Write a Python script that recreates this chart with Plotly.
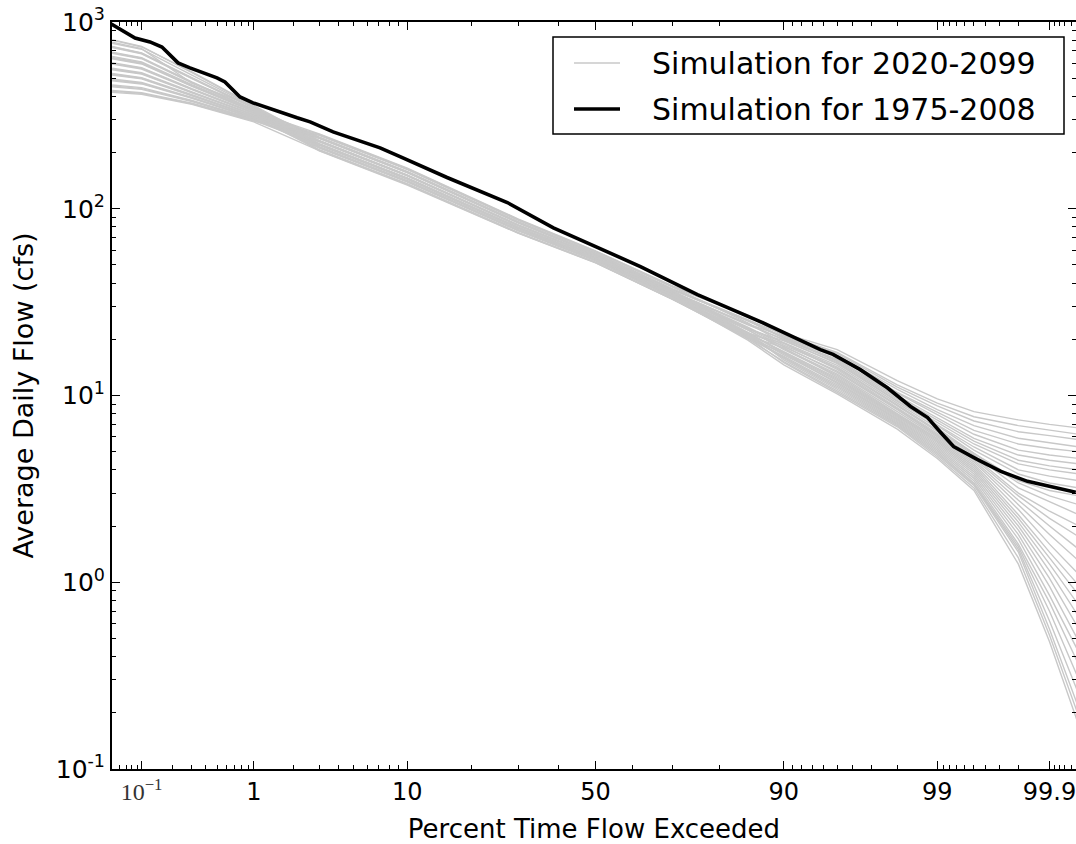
import plotly.graph_objects as go
from statistics import NormalDist

# ---------------- data ----------------
# percent of time flow exceeded (probability axis) shared by the 2020-2099 runs
GRAY_PCT = [0.05, 0.1, 0.3, 1, 3, 10, 30, 50, 70, 85, 90, 95, 98, 99, 99.5, 99.8, 99.9, 99.95]

# Simulation for 2020-2099 (one list of flows in cfs per run)
SIM_2020_2099 = [
    [560, 530, 420, 318, 250, 164, 87.5, 59.2, 38.4, 26.8, 21.5, 17.6, 12.0, 9.6, 8.2, 7.4, 7.0, 6.7],
    [685, 640, 475, 339, 241, 158, 84.8, 57.7, 37.1, 25.3, 21.2, 17.0, 11.4, 9.1, 7.7, 6.9, 6.5, 6.2],
    [455, 440, 378, 300, 248, 163, 87.0, 58.9, 38.2, 26.6, 21.0, 16.8, 11.1, 8.8, 7.3, 6.4, 6.1, 5.8],
    [800, 735, 540, 358, 231, 151, 81.7, 56.2, 35.9, 24.1, 20.8, 16.4, 10.8, 8.4, 6.9, 5.9, 5.6, 5.3],
    [490, 470, 392, 306, 238, 156, 84.0, 57.2, 36.8, 25.1, 20.5, 16.0, 10.4, 8.1, 6.5, 5.5, 5.2, 5.0],
    [640, 600, 455, 332, 252, 165, 88.0, 59.5, 38.6, 26.9, 21.0, 16.2, 10.3, 7.9, 6.2, 5.1, 4.8, 4.6],
    [425, 415, 365, 295, 239, 157, 84.3, 57.4, 36.9, 25.2, 20.2, 15.6, 10.0, 7.6, 5.9, 4.8, 4.5, 4.3],
    [600, 565, 437, 325, 229, 150, 81.2, 55.8, 35.7, 23.9, 20.0, 15.4, 9.8, 7.4, 5.7, 4.5, 4.2, 4.0],
    [735, 680, 500, 347, 242, 158, 85.0, 57.8, 37.2, 25.4, 20.4, 15.2, 9.6, 7.2, 5.5, 4.3, 4.0, 3.8],
    [525, 500, 405, 312, 220, 144, 78.6, 54.3, 34.7, 22.7, 19.6, 15.0, 9.4, 7.0, 5.3, 4.0, 3.7, 3.5],
    [645, 605, 458, 333, 232, 152, 81.9, 56.3, 36.0, 24.2, 19.8, 14.8, 9.3, 6.9, 5.1, 3.8, 3.4, 3.2],
    [460, 445, 380, 302, 222, 146, 79.2, 54.7, 34.9, 22.9, 19.2, 14.5, 9.1, 6.7, 4.9, 3.5, 3.1, 2.9],
    [730, 676, 497, 345, 212, 139, 76.2, 52.8, 33.7, 21.5, 19.0, 14.2, 8.9, 6.5, 4.9, 3.4, 2.9, 2.6],
    [565, 535, 422, 319, 228, 150, 81.0, 55.7, 35.6, 23.2, 18.6, 14.0, 8.8, 6.4, 4.8, 3.2, 2.7, 2.3],
    [495, 474, 394, 307, 247, 162, 86.7, 58.7, 38.0, 24.5, 19.0, 13.8, 8.6, 6.3, 4.7, 3.0, 2.4, 2.0],
    [780, 720, 470, 352, 223, 146, 79.4, 54.8, 35.0, 22.9, 18.2, 13.5, 8.5, 6.2, 4.6, 2.9, 2.2, 1.75],
    [690, 645, 478, 340, 214, 141, 76.8, 53.2, 33.9, 21.7, 18.4, 13.3, 8.4, 6.1, 4.5, 2.75, 2.0, 1.5],
    [430, 418, 368, 297, 219, 144, 78.4, 54.2, 34.6, 22.4, 17.8, 13.0, 8.2, 6.0, 4.4, 2.6, 1.8, 1.3],
    [605, 570, 440, 326, 237, 156, 83.8, 57.1, 36.4, 22.5, 17.6, 12.8, 8.0, 5.9, 4.3, 2.45, 1.6, 1.1],
    [520, 496, 402, 311, 206, 136, 74.3, 51.7, 32.9, 20.9, 18.0, 12.6, 7.9, 5.8, 4.2, 2.3, 1.45, 0.96],
    [805, 740, 535, 356, 215, 141, 77.0, 53.3, 34.0, 21.5, 17.2, 12.4, 7.8, 5.7, 4.1, 2.2, 1.35, 0.85],
    [450, 436, 375, 298, 231, 151, 81.5, 56.0, 35.4, 21.8, 17.0, 12.2, 7.7, 5.6, 4.0, 2.1, 1.25, 0.75],
    [635, 596, 452, 331, 204, 134, 73.8, 51.3, 32.7, 20.6, 16.8, 12.0, 7.6, 5.5, 3.9, 2.0, 1.15, 0.65],
    [485, 466, 390, 305, 212, 140, 76.3, 52.9, 33.6, 21.1, 16.5, 11.8, 7.5, 5.4, 3.8, 1.9, 1.05, 0.56],
    [555, 526, 418, 317, 222, 146, 79.3, 54.6, 34.7, 21.6, 16.8, 11.6, 7.4, 5.3, 3.7, 1.8, 0.95, 0.48],
    [420, 410, 362, 292, 205, 135, 74.0, 51.5, 32.7, 20.4, 16.2, 11.4, 7.3, 5.2, 3.6, 1.7, 0.85, 0.42],
    [740, 684, 503, 348, 220, 145, 78.8, 54.4, 34.5, 21.0, 16.0, 11.2, 7.2, 5.1, 3.5, 1.6, 0.78, 0.36],
    [595, 560, 434, 323, 213, 140, 76.6, 53.1, 33.6, 20.7, 15.8, 11.0, 7.1, 5.0, 3.4, 1.55, 0.70, 0.30],
    [530, 504, 408, 313, 241, 157, 84.6, 57.6, 36.4, 21.6, 15.5, 10.8, 7.0, 4.9, 3.35, 1.5, 0.62, 0.25],
    [680, 636, 472, 338, 207, 136, 74.5, 51.8, 32.8, 20.1, 15.2, 10.6, 6.9, 4.8, 3.3, 1.45, 0.56, 0.21],
    [770, 715, 520, 352, 221, 145, 79.1, 54.5, 34.2, 20.5, 15.0, 10.4, 6.8, 4.7, 3.2, 1.35, 0.52, 0.19],
    [655, 612, 462, 336, 214, 140, 76.7, 53.0, 33.4, 19.8, 14.6, 10.2, 6.6, 4.6, 3.1, 1.25, 0.48, 0.17],
]

# Simulation for 1975-2008
HIST_PCT = [0.049, 0.086, 0.121, 0.158, 0.224, 0.288, 0.498, 0.582, 0.776, 0.985,
            2.11, 2.60, 3.70, 7.12, 9.16, 15.6, 27.4, 38.7, 45.9, 62.0, 75.6, 87.3,
            93.7, 94.7, 96.4, 97.65, 98.40, 98.81, 99.06, 99.26, 99.53, 99.71,
            99.836, 99.903, 99.946]
HIST_FLOW = [975, 821, 782, 735, 604, 568, 502, 478, 397, 369,
             307, 292, 258, 212, 190, 147, 108, 79.1, 68.2, 49.0, 34.7, 24.5,
             17.6, 16.6, 13.8, 11.0, 8.73, 7.62, 6.34, 5.33, 4.55, 3.92,
             3.47, 3.26, 3.03]

SERIES_NAMES = ["Simulation for 2020-2099", "Simulation for 1975-2008"]

X_TICK_PCT = [0.1, 1, 10, 50, 90, 99, 99.9]
X_TICK_TEXT = ['<span style="font-family:\'Liberation Serif\';color:#333">10<sup>\u22121</sup></span>',
               "1", "10", "50", "90", "99", "99.9"]
X_MINOR_PCT = [0.05, 0.06, 0.07, 0.08, 0.09,
               0.2, 0.3, 0.4, 0.5, 0.6, 0.7, 0.8, 0.9,
               2, 3, 4, 5, 6, 7, 8, 9,
               20, 30, 40, 60, 70, 80,
               91, 92, 93, 94, 95, 96, 97, 98,
               99.1, 99.2, 99.3, 99.4, 99.5, 99.6, 99.7, 99.8,
               99.91, 99.92, 99.93, 99.94]
Y_TICK_VALS = [0.1, 1, 10, 100, 1000]
Y_TICK_TEXT = ["10<sup>-1</sup>", "10<sup>0</sup>", "10<sup>1</sup>", "10<sup>2</sup>", "10<sup>3</sup>"]
Y_MINOR_VALS = [m * d for d in (0.1, 1, 10, 100) for m in range(2, 10)]
X_RANGE_PCT = [0.0498, 99.9463]

# ---------------- figure ----------------
ND = NormalDist()


def prob(p):
    """percent exceedance -> position on a normal-probability axis"""
    return ND.inv_cdf(p / 100.0)


W, H = 1076, 844
ML, MR, MT, MB = 112, 0, 22, 75
FONT = "DejaVu Sans"
GRAY = "#c8c8c8"

fig = go.Figure()
for run in SIM_2020_2099:
    fig.add_trace(go.Scatter(
        x=[prob(p) for p in GRAY_PCT], y=run, mode="lines",
        line=dict(color=GRAY, width=1.4), showlegend=False,
        name=SERIES_NAMES[0], hoverinfo="skip"))
fig.add_trace(go.Scatter(
    x=[prob(p) for p in HIST_PCT], y=HIST_FLOW, mode="lines",
    line=dict(color="black", width=3.6), showlegend=False,
    name=SERIES_NAMES[1]))
# carrier for right-hand tick marks
fig.add_trace(go.Scatter(
    x=[prob(HIST_PCT[0])], y=[HIST_FLOW[0]], yaxis="y2", mode="markers",
    marker=dict(opacity=0), showlegend=False, hoverinfo="skip"))

fig.update_layout(
    width=W, height=H,
    margin=dict(l=ML, r=MR, t=MT, b=MB),
    paper_bgcolor="white", plot_bgcolor="white",
    font=dict(family=FONT, color="black", size=24),
    xaxis=dict(
        range=[prob(X_RANGE_PCT[0]), prob(X_RANGE_PCT[1])],
        tickmode="array", tickvals=[prob(p) for p in X_TICK_PCT], ticktext=X_TICK_TEXT,
        ticks="inside", ticklen=8, tickwidth=1.2, tickcolor="black",
        minor=dict(tickmode="array", tickvals=[prob(p) for p in X_MINOR_PCT],
                   ticks="inside", ticklen=4, tickwidth=1, tickcolor="black", showgrid=False),
        showline=True, linecolor="black", linewidth=2, mirror="ticks",
        showgrid=False, zeroline=False, ticklabeloverflow="allow",
        tickfont=dict(family=FONT, size=24, color="black"),
        title=dict(text="Percent Time Flow Exceeded", font=dict(family=FONT, size=26), standoff=18),
    ),
    yaxis=dict(
        type="log", range=[-1, 3],
        tickmode="array", tickvals=Y_TICK_VALS, ticktext=Y_TICK_TEXT,
        ticks="inside", ticklen=8, tickwidth=1.2, tickcolor="black",
        minor=dict(tickmode="array", tickvals=Y_MINOR_VALS,
                   ticks="inside", ticklen=4, tickwidth=1, tickcolor="black", showgrid=False),
        showline=True, linecolor="black", linewidth=2, mirror=False,
        showgrid=False, zeroline=False, ticklabeloverflow="allow",
        tickfont=dict(family=FONT, size=25, color="black"),
        title=dict(text="Average Daily Flow (cfs)", font=dict(family=FONT, size=27), standoff=14),
    ),
    yaxis2=dict(
        type="log", range=[-1, 3], overlaying="y", side="right",
        tickmode="array", tickvals=Y_TICK_VALS, showticklabels=False,
        ticks="inside", ticklen=8, tickwidth=1.2, tickcolor="black",
        minor=dict(tickmode="array", tickvals=Y_MINOR_VALS,
                   ticks="inside", ticklen=4, tickwidth=1, tickcolor="black", showgrid=False),
        showline=False, showgrid=False, zeroline=False,
    ),
)

# ---- legend box (drawn in pixel space of the page) ----
PW, PH = W - ML - MR, H - MT - MB


def px(xp):
    return (xp - ML) / PW


def py(yp):
    return (H - MB - yp) / PH


fig.add_shape(type="rect", xref="paper", yref="paper",
              x0=px(553), x1=px(1064), y0=py(134), y1=py(37),
              line=dict(color="black", width=1.5), fillcolor="white", layer="above")
fig.add_shape(type="line", xref="paper", yref="paper",
              x0=px(574), x1=px(620), y0=py(63), y1=py(63),
              line=dict(color=GRAY, width=1.4), layer="above")
fig.add_shape(type="line", xref="paper", yref="paper",
              x0=px(574), x1=px(620), y0=py(109), y1=py(109),
              line=dict(color="black", width=3.6), layer="above")
for name, ypix in zip(SERIES_NAMES, (63, 109)):
    fig.add_annotation(xref="paper", yref="paper", x=px(650), y=py(ypix),
                       xanchor="left", yanchor="middle", text=name, showarrow=False,
                       font=dict(family=FONT, size=30, color="black"))

fig.write_html("out.html")
